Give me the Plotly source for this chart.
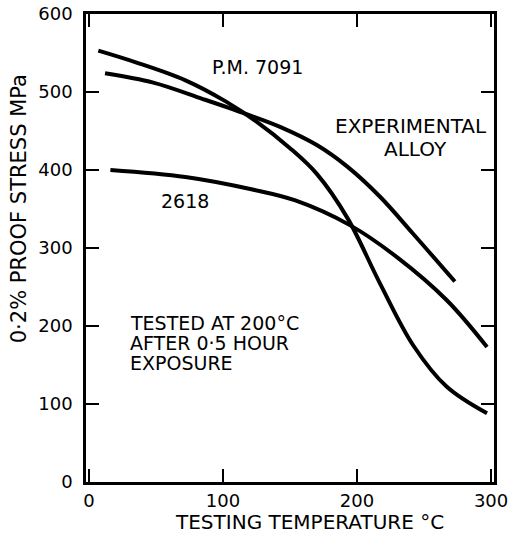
import plotly.graph_objects as go

# Data (temperature °C, 0.2% proof stress MPa)
pm7091_t = [7, 35, 72, 102, 125, 150, 170, 193, 217, 242, 267, 297]
pm7091_s = [553, 538, 515, 488, 462, 428, 395, 338, 255, 175, 122, 88]

exp_t = [12, 48, 85, 117, 143, 170, 193, 217, 242, 273]
exp_s = [524, 512, 491, 472, 455, 432, 404, 366, 318, 257]

a2618_t = [16, 72, 122, 154, 195, 230, 267, 297]
a2618_s = [400, 391, 375, 361, 329, 288, 233, 173]

x_ticks = [0, 100, 200, 300]
y_ticks = [0, 100, 200, 300, 400, 500, 600]

FONT = "DejaVu Sans"

fig = go.Figure()
for xs, ys in [(pm7091_t, pm7091_s), (exp_t, exp_s), (a2618_t, a2618_s)]:
    fig.add_trace(go.Scatter(x=xs, y=ys, mode="lines",
                             line=dict(color="black", width=4, shape="spline", smoothing=1.0),
                             showlegend=False, hoverinfo="skip"))

axis_common = dict(showline=True, linecolor="black", linewidth=2.5, mirror="ticks",
                   ticks="inside", ticklen=13, tickwidth=2, tickcolor="black",
                   showgrid=False, zeroline=False, automargin=False,
                   tickfont=dict(family=FONT, size=18, color="black"))

fig.update_xaxes(range=[-2.2, 302.2], tickvals=x_ticks, ticktext=[str(v) for v in x_ticks],
                 ticklabelstandoff=1, **axis_common)
fig.update_yaxes(range=[0, 600], tickvals=y_ticks, ticktext=[str(v) for v in y_ticks],
                 ticklabelstandoff=7, **axis_common)

ann_font = dict(family=FONT, size=19, color="black")


def txt(x, y, s, **kw):
    d = dict(x=x, y=y, text=s, xref="x", yref="y", showarrow=False, font=ann_font)
    d.update(kw)
    return d


annotations = [
    txt(126, 532, "P.M. 7091"),
    txt(240, 456, "EXPERIMENTAL", font=dict(family=FONT, size=20, color="black")),
    txt(244, 427, "ALLOY", font=dict(family=FONT, size=20, color="black")),
    txt(72, 360, "2618"),
    txt(29, 204, "TESTED AT 200°C", xanchor="left"),
    txt(29, 178, "AFTER 0·5 HOUR", xanchor="left"),
    txt(29, 152, "EXPOSURE", xanchor="left"),
    dict(x=0.549, y=-0.086, text="TESTING TEMPERATURE °C", xref="paper", yref="paper",
         xanchor="center", yanchor="middle",
         showarrow=False, font=dict(family=FONT, size=20, color="black")),
    dict(x=-0.164, y=0.583, text="0·2% PROOF STRESS MPa", xref="paper", yref="paper",
         xanchor="center", yanchor="middle",
         showarrow=False, textangle=-90, font=dict(family=FONT, size=21, color="black")),
]

fig.update_layout(width=512, height=535, margin=dict(l=86, r=18, t=14, b=53),
                  paper_bgcolor="white", plot_bgcolor="white",
                  annotations=annotations)

fig.write_html("out.html", config={"displayModeBar": False},
               post_script="document.body.style.margin='0';document.body.style.overflow='hidden';")
